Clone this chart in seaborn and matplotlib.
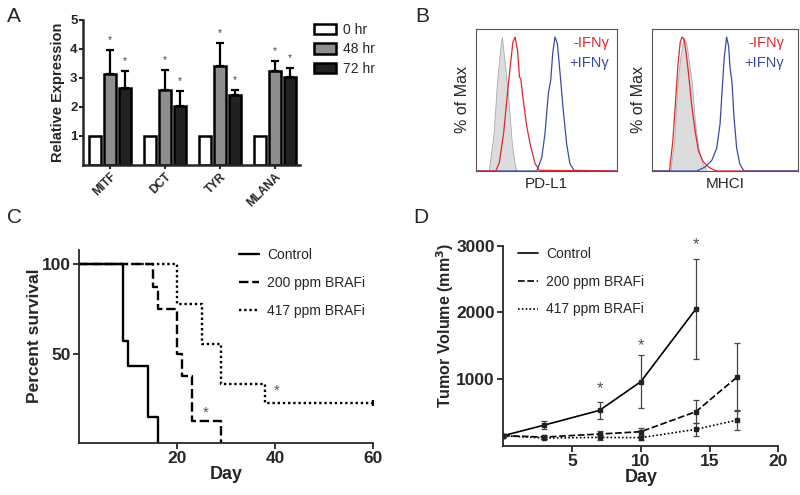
import numpy as np
import pandas as pd
import matplotlib
matplotlib.use('Agg')
import matplotlib.pyplot as plt
import seaborn as sns

sns.set_style('ticks')
plt.rcParams['font.family'] = ['Liberation Sans', 'DejaVu Sans']

# ---- A: relative expression ----
genes = ['MITF', 'DCT', 'TYR', 'MLANA']
times = ['0 hr', '48 hr', '72 hr']
expr_0hr = [1, 1, 1, 1]
expr_48hr = [3.15, 2.6, 3.4, 3.23]
expr_72hr = [2.65, 2.03, 2.42, 3.03]
err_48hr = [0.8, 0.68, 0.8, 0.35]
err_72hr = [0.58, 0.52, 0.16, 0.32]

# ---- B: flow histograms (x = position along axis, y = % of max) ----
pdl1_iso_x = [0.09, 0.125, 0.149, 0.172, 0.184, 0.208, 0.231, 0.255, 0.278, 0.29]
pdl1_iso_y = [0, 28, 66, 92, 100, 77, 53, 20, 3, 0]
pdl1_minus_x = [0, 0.14, 0.165, 0.196, 0.219, 0.243, 0.262, 0.278, 0.295, 0.309, 0.318,
                0.333, 0.361, 0.389, 0.42, 0.45, 1.0]
pdl1_minus_y = [0, 0, 6, 28, 53, 78, 96, 100, 90, 70, 69, 55, 33, 18, 5.5, 0.5, 0]
pdl1_plus_x = [0, 0.432, 0.467, 0.49, 0.514, 0.531, 0.545, 0.561, 0.578, 0.597, 0.62,
               0.644, 0.667, 0.696, 1.0]
pdl1_plus_y = [0, 0, 10, 28, 58, 68, 88, 100, 95, 73, 45, 20, 5.5, 0.5, 0]

mhc_iso_x = [0.125, 0.152, 0.175, 0.193, 0.216, 0.234, 0.25, 0.273, 0.295, 0.318, 0.348, 0.375]
mhc_iso_y = [0, 23, 66, 84, 100, 96, 84, 66, 35, 17, 5, 0]
mhc_minus_x = [0, 0.12, 0.143, 0.159, 0.177, 0.193, 0.205, 0.22, 0.234, 0.25, 0.273, 0.295,
               0.318, 0.348, 0.375, 0.41, 0.443, 1.0]
mhc_minus_y = [0, 0, 23, 48, 78, 96, 100, 98, 88, 73, 48, 30, 15, 7.5, 4, 1.5, 0, 0]
mhc_plus_x = [0, 0.307, 0.364, 0.41, 0.443, 0.466, 0.482, 0.495, 0.511, 0.525, 0.534, 0.548,
              0.561, 0.58, 0.602, 0.63, 1.0]
mhc_plus_y = [0, 0, 3, 8, 17, 35, 63, 85, 100, 93, 78, 66, 41, 17, 5, 0, 0]

# ---- C: survival ----
groups = ['Control', '200 ppm BRAFi', '417 ppm BRAFi']
ctrl_day = [0, 9, 10, 14, 16]
ctrl_surv = [100, 57.1, 42.9, 14.3, 0]
b200_day = [0, 15, 16, 20, 21, 23, 29]
b200_surv = [100, 87.5, 75, 50, 37.5, 12.5, 0]
b417_day = [0, 20, 25, 29, 38, 60]
b417_surv = [100, 77.8, 55.6, 33.3, 22.2, 22.2]
surv_star_day = [25.8, 40.3]
surv_star_val = [17, 29]

# ---- D: tumor volume ----
ctrl_vday = [0, 3, 7, 10, 14]
ctrl_vol = [150, 310, 530, 960, 2050]
ctrl_err = [20, 65, 125, 400, 750]
b200_vday = [0, 3, 7, 10, 14, 17]
b200_vol = [150, 130, 175, 210, 510, 1030]
b200_err = [20, 25, 45, 50, 170, 510]
b417_vday = [0, 3, 7, 10, 14, 17]
b417_vol = [150, 115, 125, 120, 245, 385]
b417_err = [20, 20, 40, 30, 100, 155]
vol_star_day = [7, 10, 14]
vol_star_val = [850, 1500, 3020]

fig = plt.figure(figsize=(8, 4.95), dpi=100)
axA = fig.add_axes([0.104, 0.6667, 0.271, 0.293])
axB1 = fig.add_axes([0.595, 0.6545, 0.176, 0.287])
axB2 = fig.add_axes([0.815, 0.6545, 0.1825, 0.287])
axC = fig.add_axes([0.099, 0.105, 0.3675, 0.39])
axD = fig.add_axes([0.629, 0.0996, 0.344, 0.404])

# A
dfA = pd.DataFrame({
    'gene': genes * 3,
    'time': [t for t in times for _ in genes],
    'expr': expr_0hr + expr_48hr + expr_72hr,
})
sns.barplot(data=dfA, x='gene', y='expr', hue='time', hue_order=times,
            palette=['white', '#8e8e8e', '#231f20'], edgecolor='black', linewidth=1.8,
            width=0.82, gap=0.18, errorbar=None, ax=axA)
for cont, vals, errs in zip(axA.containers[1:], [expr_48hr, expr_72hr], [err_48hr, err_72hr]):
    xs = [b.get_x() + b.get_width() / 2 for b in cont]
    axA.errorbar(xs, vals, yerr=[np.zeros(len(vals)), errs], fmt='none', ecolor='black',
                 elinewidth=1.6, capsize=3, capthick=1.6)
    for x, v, e in zip(xs, vals, errs):
        axA.text(x, v + e + 0.18, '*', ha='center', va='bottom', fontsize=7.5, color='#444444')
axA.set_xlim(-0.49, 3.45)
axA.set_ylim(0, 5)
axA.set_yticks([1, 2, 3, 4, 5])
axA.set_xlabel('')
axA.set_ylabel('Relative Expression', fontsize=10.5, fontweight='bold', labelpad=4)
axA.tick_params(axis='y', labelsize=9.5, width=1.5, length=3, pad=1)
axA.tick_params(axis='x', labelsize=8.5, width=1.5, length=3, pad=1)
for lab in axA.get_yticklabels():
    lab.set_fontweight('bold')
for lab in axA.get_xticklabels():
    lab.set_fontweight('bold')
    lab.set_rotation(45)
    lab.set_ha('right')
    lab.set_rotation_mode('anchor')
sns.despine(ax=axA)
for s in ['left', 'bottom']:
    axA.spines[s].set_linewidth(1.8)
axA.legend(loc='upper left', bbox_to_anchor=(1.065, 0.98), frameon=False, fontsize=10,
           handlelength=1.6, handleheight=0.8, handletextpad=0.5, labelspacing=0.4,
           borderaxespad=0, borderpad=0)

# B
red = '#e4252b'
blue = '#3c4aa5'


def flow(ax, iso_x, iso_y, minus_x, minus_y, plus_x, plus_y, xlabel, red_top):
    ax.fill_between(iso_x, iso_y, color='#dcdcdc', edgecolor='#aaaaaa', linewidth=0.6)
    order = [(plus_x, plus_y, blue), (minus_x, minus_y, red)]
    if not red_top:
        order = order[::-1]
    for xs, ys, c in order:
        sns.lineplot(x=xs, y=ys, sort=False, color=c, linewidth=0.9, ax=ax)
    ax.set_xlim(0, 1)
    ax.set_ylim(0, 106)
    ax.set_xticks([])
    ax.set_yticks([])
    ax.set_xlabel(xlabel, fontsize=11, labelpad=4)
    ax.set_ylabel('% of Max', fontsize=11.5, labelpad=4)
    for s in ax.spines.values():
        s.set_color('#555555')
        s.set_linewidth(0.8)


flow(axB1, pdl1_iso_x, pdl1_iso_y, pdl1_minus_x, pdl1_minus_y, pdl1_plus_x, pdl1_plus_y,
     'PD-L1', True)
flow(axB2, mhc_iso_x, mhc_iso_y, mhc_minus_x, mhc_minus_y, mhc_plus_x, mhc_plus_y,
     'MHCI', False)
for ax, xr in [(axB1, 0.945), (axB2, 0.905)]:
    ax.text(xr, 0.9, '-IFNγ', color=red, fontsize=10.5, ha='right', va='center',
            transform=ax.transAxes)
    ax.text(xr, 0.76, '+IFNγ', color=blue, fontsize=10.5, ha='right', va='center',
            transform=ax.transAxes)

# C
dfC = pd.DataFrame({
    'day': ctrl_day + b200_day + b417_day,
    'surv': ctrl_surv + b200_surv + b417_surv,
    'group': [groups[0]] * len(ctrl_day) + [groups[1]] * len(b200_day) + [groups[2]] * len(b417_day),
})
dash_map = {groups[0]: '', groups[1]: (4, 1.6), groups[2]: (1, 1.2)}
sns.lineplot(data=dfC, x='day', y='surv', style='group', style_order=groups,
             dashes=dash_map, color='black', linewidth=1.7, drawstyle='steps-post',
             estimator=None, sort=False, ax=axC)
axC.plot([b417_day[-1]], [b417_surv[-1]], marker='|', markersize=5, color='black', mew=1.7)
for d, v in zip(surv_star_day, surv_star_val):
    axC.text(d, v, '*', ha='center', va='center', fontsize=11, color='#555555')
axC.set_xlim(0, 60)
axC.set_ylim(0, 108)
axC.set_xticks([20, 40, 60])
axC.set_yticks([50, 100])
axC.set_xlabel('Day', fontsize=13, fontweight='bold', labelpad=0)
axC.set_ylabel('Percent survival', fontsize=12.5, fontweight='bold')
axC.yaxis.set_label_coords(-0.125, 0.554)
axC.tick_params(labelsize=12.5, width=1.3, length=4, pad=2)
for lab in axC.get_xticklabels() + axC.get_yticklabels():
    lab.set_fontweight('bold')
sns.despine(ax=axC)
for s in ['left', 'bottom']:
    axC.spines[s].set_linewidth(1.3)
axC.legend(loc='upper left', bbox_to_anchor=(0.545, 1.01), frameon=False, fontsize=10,
           handlelength=1.4, handletextpad=0.6, labelspacing=1.0, borderaxespad=0, borderpad=0)

# D
dfD = pd.DataFrame({
    'day': ctrl_vday + b200_vday + b417_vday,
    'vol': ctrl_vol + b200_vol + b417_vol,
    'group': [groups[0]] * len(ctrl_vday) + [groups[1]] * len(b200_vday) + [groups[2]] * len(b417_vday),
})
sns.lineplot(data=dfD, x='day', y='vol', style='group', style_order=groups,
             dashes={groups[0]: '', groups[1]: (4, 1.6), groups[2]: (1, 1.3)},
             color='black', linewidth=1.2, estimator=None, sort=False, ax=axD)
for xs, ys, es in [(ctrl_vday, ctrl_vol, ctrl_err), (b200_vday, b200_vol, b200_err),
                   (b417_vday, b417_vol, b417_err)]:
    axD.errorbar(xs, ys, yerr=es, fmt='s', markersize=3, color='#222222', ecolor='#444444',
                 elinewidth=0.9, capsize=2, capthick=0.9)
for d, v in zip(vol_star_day, vol_star_val):
    axD.text(d, v, '*', ha='center', va='center', fontsize=12, color='#555555')
axD.set_xlim(0, 20)
axD.set_ylim(0, 3000)
axD.set_xticks([5, 10, 15, 20])
axD.set_yticks([1000, 2000, 3000])
axD.set_xlabel('Day', fontsize=13, fontweight='bold', labelpad=0)
axD.set_ylabel('Tumor Volume (mm$^\\mathbf{3}$)', fontsize=11.5, fontweight='bold')
axD.yaxis.set_label_coords(-0.17, 0.6)
axD.tick_params(labelsize=12.5, width=1.3, length=4, pad=2)
for lab in axD.get_xticklabels() + axD.get_yticklabels():
    lab.set_fontweight('bold')
sns.despine(ax=axD)
for s in ['left', 'bottom']:
    axD.spines[s].set_linewidth(1.3)
axD.legend(loc='upper left', bbox_to_anchor=(0.055, 0.995), frameon=False, fontsize=10,
           handlelength=1.4, handletextpad=0.6, labelspacing=1.0, borderaxespad=0, borderpad=0)

# panel letters
for lab, x, y in [('A', 0.009, 0.9556), ('B', 0.519, 0.9556), ('C', 0.009, 0.5495),
                  ('D', 0.516, 0.5495)]:
    fig.text(x, y, lab, fontsize=15, ha='left', va='baseline')

fig.savefig('out.png', dpi=100)
